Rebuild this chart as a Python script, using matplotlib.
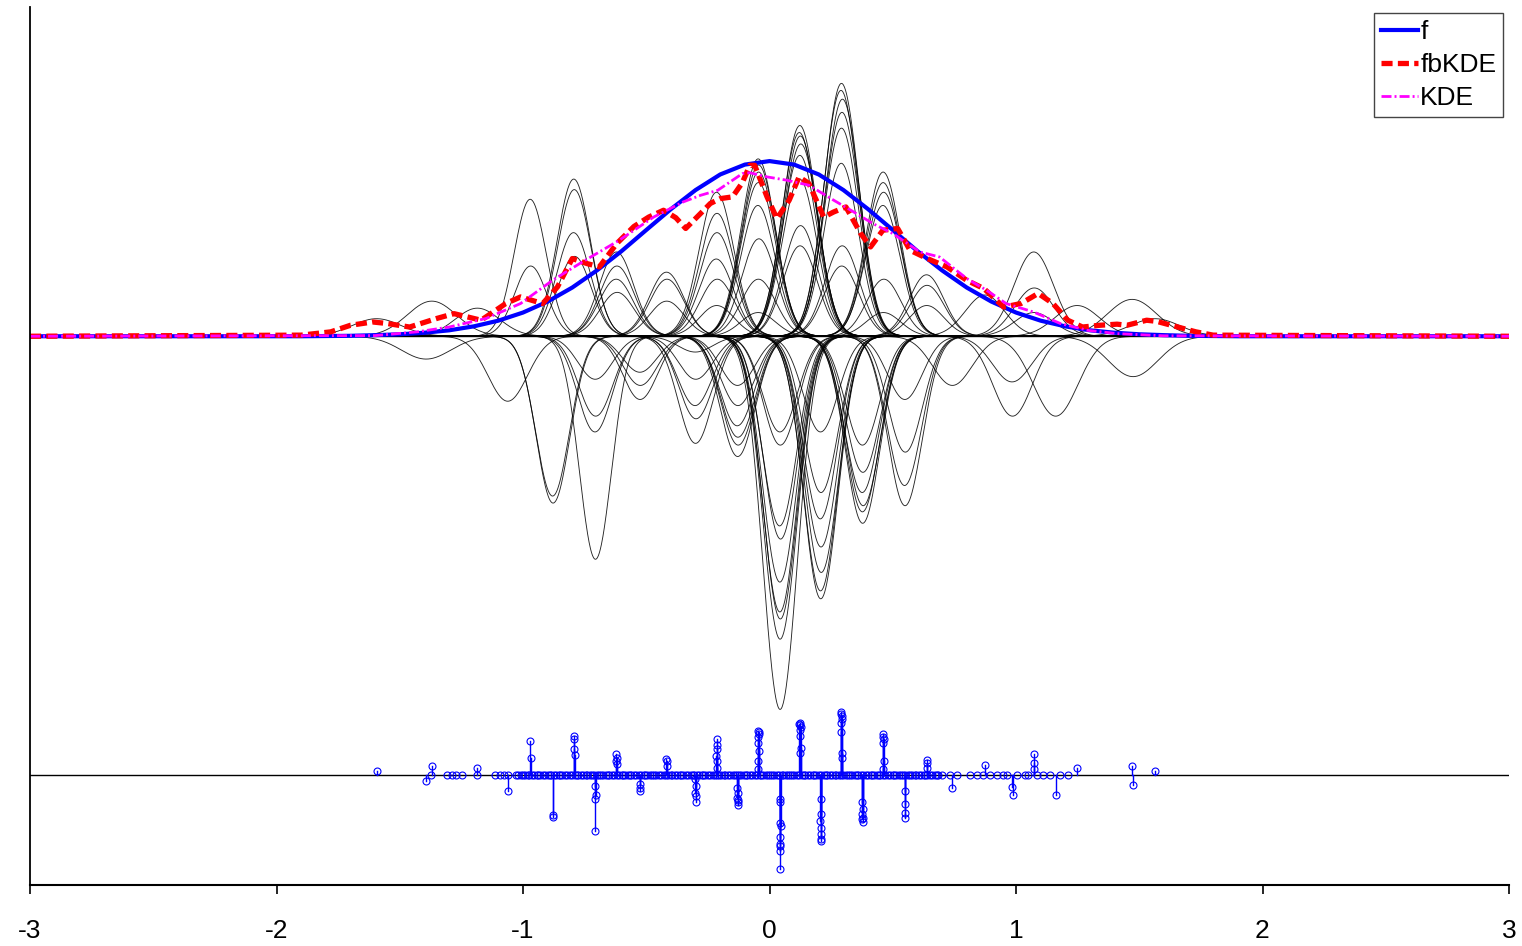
import numpy as np
import matplotlib
matplotlib.use("Agg")
import matplotlib.pyplot as plt

plt.rcParams['font.family'] = ['Liberation Sans', 'DejaVu Sans']
plt.rcParams['axes.unicode_minus'] = False

# true density f, read at grid points
f_x = [-3.0, -2.0, -1.9, -1.8, -1.7, -1.6, -1.5, -1.4, -1.3, -1.2, -1.1, -1.0,
       -0.9, -0.8, -0.7, -0.6, -0.5, -0.4, -0.3, -0.2, -0.1, 0.0,
       0.1, 0.2, 0.3, 0.4, 0.5, 0.6, 0.7, 0.8, 0.9, 1.0,
       1.1, 1.2, 1.3, 1.4, 1.5, 1.6, 1.7, 1.8, 1.9, 2.0, 3.0]
f_y = [0.0, 0.0, 0.0, 0.001, 0.002, 0.005, 0.009, 0.016, 0.027, 0.045, 0.071, 0.108,
       0.158, 0.222, 0.300, 0.388, 0.484, 0.579, 0.666, 0.737, 0.782, 0.798,
       0.782, 0.737, 0.666, 0.579, 0.484, 0.388, 0.300, 0.222, 0.158, 0.108,
       0.071, 0.045, 0.027, 0.016, 0.009, 0.005, 0.002, 0.001, 0.0, 0.0, 0.0]

# fbKDE estimate
fb_x = [-3.0, -1.90, -1.78, -1.70, -1.61, -1.55, -1.46, -1.35, -1.28, -1.17, -1.07,
        -1.01, -0.92, -0.86, -0.80, -0.74, -0.69, -0.62, -0.55, -0.49, -0.43, -0.38,
        -0.34, -0.28, -0.24, -0.20, -0.15, -0.11, -0.08, -0.06, -0.01, 0.03, 0.08,
        0.12, 0.16, 0.22, 0.26, 0.31, 0.37, 0.41, 0.46, 0.52, 0.57, 0.64, 0.72,
        0.80, 0.87, 0.95, 1.02, 1.09, 1.15, 1.21, 1.27, 1.34, 1.41, 1.45, 1.53,
        1.57, 1.68, 1.73, 1.80, 3.0]
fb_y = [0.0, 0.005, 0.020, 0.050, 0.065, 0.058, 0.042, 0.081, 0.103, 0.073, 0.149,
        0.179, 0.149, 0.225, 0.354, 0.331, 0.316, 0.422, 0.500, 0.543, 0.574, 0.540,
        0.491, 0.559, 0.605, 0.627, 0.635, 0.700, 0.779, 0.779, 0.635, 0.536, 0.620,
        0.726, 0.696, 0.543, 0.566, 0.589, 0.468, 0.407, 0.483, 0.491, 0.392, 0.354, 0.316,
        0.255, 0.217, 0.133, 0.149, 0.195, 0.149, 0.073, 0.042, 0.050, 0.055, 0.050, 0.073,
        0.068, 0.035, 0.020, 0.005, 0.0]

# ordinary KDE
kde_x = [-3.0, -1.60, -1.43, -1.30, -1.15, -1.01, -0.88, -0.76, -0.61, -0.47, -0.35,
         -0.28, -0.21, -0.11, -0.08, -0.01, 0.07, 0.16, 0.26, 0.33, 0.42, 0.50,
         0.61, 0.69, 0.80, 0.88, 0.96, 1.07, 1.18, 1.29, 1.41, 1.60, 3.0]
kde_y = [0.0, 0.003, 0.020, 0.042, 0.081, 0.149, 0.255, 0.338, 0.437, 0.543, 0.612,
         0.642, 0.665, 0.741, 0.745, 0.726, 0.711, 0.688, 0.620, 0.574, 0.513, 0.468,
         0.384, 0.361, 0.263, 0.210, 0.149, 0.111, 0.058, 0.027, 0.012, 0.002, 0.0]

# weighted samples: position and weight (stems drawn at offset -2)
w_x = [-1.594, -1.370, -1.393, -1.185, -1.062,
       -0.971, -0.969,
       -0.880, -0.878,
       -0.794, -0.792, -0.795, -0.791,
       -0.707, -0.705, -0.708, -0.706,
       -0.621, -0.619, -0.622, -0.618,
       -0.526, -0.524, -0.525,
       -0.418, -0.416, -0.417,
       -0.301, -0.299, -0.302, -0.298, -0.300,
       -0.215, -0.213, -0.216, -0.212, -0.214, -0.213,
       -0.130, -0.128, -0.131, -0.127, -0.129, -0.128,
       -0.046, -0.044, -0.047, -0.043, -0.045, -0.046, -0.044, -0.045,
       0.042, 0.044, 0.041, 0.045, 0.042, 0.044, 0.043, 0.043, 0.042,
       0.123, 0.125, 0.122, 0.126, 0.124, 0.121, 0.127, 0.123,
       0.207, 0.209, 0.206, 0.210, 0.208, 0.207, 0.209,
       0.292, 0.294, 0.291, 0.295, 0.293, 0.290, 0.296, 0.292,
       0.377, 0.379, 0.376, 0.380, 0.378, 0.377,
       0.461, 0.463, 0.460, 0.464, 0.462, 0.461,
       0.549, 0.551, 0.548, 0.550,
       0.637, 0.639, 0.638,
       0.742, 0.874, 0.984, 0.986,
       1.072, 1.074, 1.073, 1.161, 1.248,
       1.471, 1.475, 1.564]
w_h = [0.020, 0.040, -0.026, 0.032, -0.074,
       0.156, 0.080,
       -0.182, -0.190,
       0.179, 0.167, 0.118, 0.091,
       -0.049, -0.091, -0.109, -0.254,
       0.096, 0.080, 0.065, 0.050,
       -0.041, -0.056, -0.072,
       0.073, 0.065, 0.040,
       -0.018, -0.049, -0.079, -0.094, -0.122,
       0.164, 0.118, 0.088, 0.065, 0.035, 0.140,
       -0.056, -0.079, -0.102, -0.124, -0.137, -0.115,
       0.202, 0.187, 0.149, 0.111, 0.065, 0.027, 0.195, 0.175,
       -0.109, -0.124, -0.216, -0.231, -0.314, -0.322, -0.345, -0.425, -0.280,
       0.240, 0.228, 0.179, 0.126, 0.103, 0.232, 0.219, 0.206,
       -0.109, -0.178, -0.208, -0.269, -0.299, -0.290, -0.240,
       0.288, 0.255, 0.197, 0.103, 0.080, 0.280, 0.270, 0.237,
       -0.124, -0.155, -0.178, -0.193, -0.213, -0.200,
       0.187, 0.164, 0.149, 0.065, 0.027, 0.175,
       -0.072, -0.132, -0.170, -0.193,
       0.070, 0.058, 0.035,
       -0.056, 0.047, -0.052, -0.091,
       0.096, 0.055, 0.027, -0.091, 0.035,
       0.042, -0.046, 0.020]
# kernel width of each weighted sample
w_s = ([0.10, 0.10, 0.10, 0.09, 0.08]
       + [0.065] * 2 + [0.068] * 2 + [0.068] * 4
       + [0.07, 0.07, 0.07, 0.065]
       + [0.07] * 4 + [0.07] * 3 + [0.07] * 3 + [0.07] * 5
       + [0.07] * 6 + [0.07] * 6 + [0.07] * 8 + [0.07] * 9
       + [0.07] * 8 + [0.07] * 7 + [0.07] * 8 + [0.07] * 6 + [0.07] * 6
       + [0.07] * 4 + [0.07] * 3
       + [0.08, 0.08, 0.08, 0.08]
       + [0.08, 0.08, 0.08, 0.09, 0.09]
       + [0.10, 0.10, 0.10])

# samples with zero weight
z_x = [-1.375, -1.310, -1.289, -1.272, -1.249, -1.185, -1.114, -1.093, -1.077, -1.060,
       -1.03, -1.02, -1.01, -1.0, -0.99, -0.98, -0.975, -0.965, -0.955, -0.945,
       -0.94, -0.93, -0.92, -0.91, -0.90, -0.89, -0.885, -0.875, -0.865, -0.855,
       -0.85, -0.84, -0.83, -0.82, -0.81, -0.80, -0.79, -0.78, -0.775, -0.765,
       -0.755, -0.745, -0.74, -0.73, -0.72, -0.71, -0.70, -0.69, -0.685, -0.675,
       -0.665, -0.655, -0.65, -0.64, -0.63, -0.62, -0.61, -0.60, -0.595, -0.585,
       -0.575, -0.565, -0.56, -0.55, -0.54, -0.53, -0.52, -0.51, -0.505, -0.495,
       -0.485, -0.475, -0.47, -0.46, -0.45, -0.44, -0.43, -0.42, -0.41, -0.40,
       -0.395, -0.385, -0.375, -0.365, -0.36, -0.35, -0.34, -0.33, -0.32, -0.31,
       -0.305, -0.295, -0.285, -0.275, -0.27, -0.26, -0.25, -0.24, -0.23, -0.22,
       -0.215, -0.205, -0.195, -0.185, -0.18, -0.17, -0.16, -0.15, -0.14, -0.13,
       -0.125, -0.115, -0.105, -0.095, -0.09, -0.08, -0.07, -0.06, -0.05, -0.04,
       -0.035, -0.025, -0.015, -0.005, 0.0, 0.01, 0.02, 0.03, 0.04, 0.05,
       0.055, 0.065, 0.075, 0.085, 0.09, 0.10, 0.11, 0.12, 0.13, 0.14,
       0.145, 0.155, 0.165, 0.175, 0.18, 0.19, 0.20, 0.21, 0.22, 0.23,
       0.235, 0.245, 0.255, 0.265, 0.27, 0.28, 0.29, 0.30, 0.31, 0.32,
       0.325, 0.335, 0.345, 0.355, 0.36, 0.37, 0.38, 0.39, 0.40, 0.41,
       0.415, 0.425, 0.435, 0.445, 0.45, 0.46, 0.47, 0.48, 0.49, 0.50,
       0.505, 0.515, 0.525, 0.535, 0.54, 0.55, 0.56, 0.57, 0.58, 0.59,
       0.595, 0.605, 0.615, 0.625, 0.63, 0.64, 0.65, 0.66, 0.67, 0.68, 0.685,
       0.699, 0.732, 0.759, 0.813, 0.840, 0.867, 0.895, 0.922, 0.948, 0.962,
       1.003, 1.037, 1.050, 1.084, 1.111, 1.138, 1.178, 1.212]

stem_offset = -2.0
curve_gain = 4.0

fig = plt.figure(figsize=(15.22, 9.46), dpi=100)
ax = fig.add_axes([30 / 1522, 61 / 946, 1479 / 1522, 878 / 946])

xx = np.linspace(-3, 3, 3001)

# weighted kernels
for c, h, s in zip(w_x, w_h, w_s):
    ax.plot(xx, curve_gain * h * np.exp(-(xx - c) ** 2 / (2 * s ** 2)),
            color='k', lw=0.65, alpha=0.85)
ax.axhline(0, color='k', lw=1.0)

hf, = ax.plot(f_x, f_y, color='b', lw=3.0, label='f')
hfb, = ax.plot(fb_x, fb_y, color='r', lw=3.8, ls=(0, (2.1, 1.0)), label='fbKDE')
hk, = ax.plot(kde_x, kde_y, color='#ff00ff', lw=2.0, ls=(0, (3.6, 1.1, 0.7, 1.1)), label='KDE')

# stems of the sample weights
ax.axhline(stem_offset, color='k', lw=1.0)
for c, h in zip(w_x, w_h):
    ax.plot([c, c], [stem_offset, stem_offset + h], color='b', lw=1.0)
ax.plot(w_x, stem_offset + np.array(w_h), 'o', ms=5, mfc='none', mec='b', mew=0.8)
ax.plot(z_x, np.full(len(z_x), stem_offset), 'o', ms=5, mfc='none', mec='b', mew=0.8)

ax.set_xlim(-3, 3)
ax.set_ylim(-2.5, 1.5)
ax.set_xticks([-3, -2, -1, 0, 1, 2, 3])
ax.set_xticklabels(['-3', '-2', '-1', '0', '1', '2', '3'])
ax.set_yticks([])
ax.tick_params(axis='x', direction='out', length=6.5, width=1.2, labelsize=19, pad=18)
for side in ['top', 'right']:
    ax.spines[side].set_visible(False)
ax.spines['left'].set_linewidth(1.3)
ax.spines['bottom'].set_linewidth(1.5)

leg = ax.legend(handles=[hf, hfb, hk], loc='upper right', bbox_to_anchor=(0.996, 0.993),
                borderaxespad=0, fontsize=19, handlelength=1.4, handletextpad=0.1,
                labelspacing=0.35, borderpad=0.25, fancybox=False, framealpha=1,
                edgecolor='#444444')
leg.get_frame().set_linewidth(1.0)

fig.savefig('out.png', dpi=100)
